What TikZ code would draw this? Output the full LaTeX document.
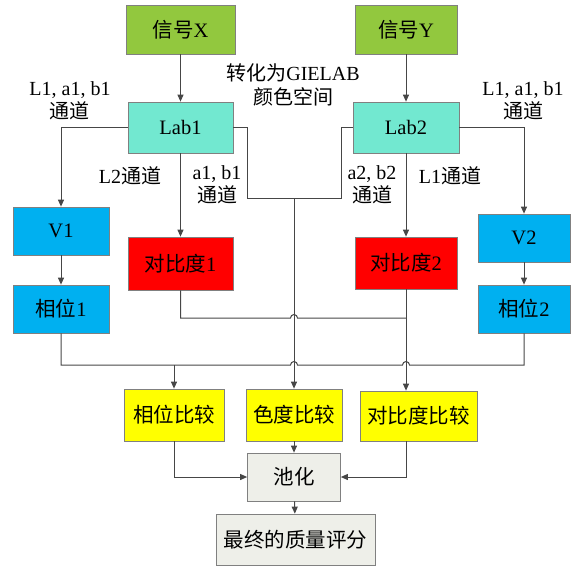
\documentclass[tikz,border=0pt]{standalone}
\usepackage{fontspec}
\setmainfont{Liberation Serif}
\newfontfamily\cjk{Noto Sans CJK SC}
\usetikzlibrary{arrows.meta}
\definecolor{sgreen}{RGB}{146,200,62}
\definecolor{labcol}{RGB}{114,232,208}
\definecolor{bluecol}{RGB}{0,176,240}
\definecolor{redcol}{RGB}{255,0,0}
\definecolor{yelcol}{RGB}{255,255,0}
\definecolor{greycol}{RGB}{238,239,233}
\definecolor{boxborder}{RGB}{128,128,128}
\definecolor{linecol}{RGB}{70,70,70}
\begin{document}
\begin{tikzpicture}[x=1pt,y=-1pt,
  box/.style={draw=boxborder, line width=0.7pt, inner sep=0pt, text=black,
    font=\fontsize{20.5}{24}\selectfont},
  conn/.style={draw=linecol, line width=1pt},
  arr/.style={conn, -{Triangle[length=7pt,width=6pt]}},
  lbl/.style={font=\fontsize{20}{23.5}\selectfont, align=center, inner sep=0pt, text=black}]
\useasboundingbox (0,0) rectangle (571,566);
% nodes
\node[box, fill=sgreen, minimum width=109pt, minimum height=49pt] (sx) at (180.5,29.5) {{\cjk 信号}X};
\node[box, fill=sgreen, minimum width=102pt, minimum height=49pt] (sy) at (406,29.5) {{\cjk 信号}Y};
\node[box, fill=labcol, minimum width=105pt, minimum height=51pt] (lab1) at (180.5,127.5) {Lab1};
\node[box, fill=labcol, minimum width=106pt, minimum height=51pt] (lab2) at (406,127.5) {Lab2};
\node[box, fill=bluecol, minimum width=96pt, minimum height=48pt] (v1) at (61,231) {V1};
\node[box, fill=bluecol, minimum width=96pt, minimum height=48pt] (p1) at (61,309) {{\cjk 相位}1};
\node[box, fill=redcol, minimum width=105pt, minimum height=53pt] (c1) at (180.5,263.5) {{\cjk 对比度}1};
\node[box, fill=redcol, minimum width=102pt, minimum height=52pt] (c2) at (406,263) {{\cjk 对比度}2};
\node[box, fill=bluecol, minimum width=92pt, minimum height=48pt] (v2) at (524,238) {V2};
\node[box, fill=bluecol, minimum width=92pt, minimum height=48pt] (p2) at (524,309) {{\cjk 相位}2};
\node[box, fill=yelcol, minimum width=100pt, minimum height=52pt] (pc) at (174,415) {\cjk 相位比较};
\node[box, fill=yelcol, minimum width=96pt, minimum height=52pt] (cc) at (294,415) {\cjk 色度比较};
\node[box, fill=yelcol, minimum width=117pt, minimum height=50pt] (kc) at (418.5,416) {\cjk 对比度比较};
\node[box, fill=greycol, minimum width=93pt, minimum height=48pt] (pool) at (294,477) {\cjk 池化};
\node[box, fill=greycol, minimum width=159pt, minimum height=51pt] (final) at (295.5,539.5) {\cjk 最终的质量评分};
% labels
\node[lbl] (t1) at (70,101) {L1, a1, b1\\{\cjk 通道}};
\node[lbl] (t2) at (523,101) {L1, a1, b1\\{\cjk 通道}};
\node[lbl] (t3) at (293,85) {{\cjk 转化为}GIELAB\\{\cjk 颜色空间}};
\node[lbl] (t4) at (130,176) {L2{\cjk 通道}};
\node[lbl] (t5) at (217,185) {a1, b1\\{\cjk 通道}};
\node[lbl] (t6) at (372,185) {a2, b2\\{\cjk 通道}};
\node[lbl] (t7) at (450,176) {L1{\cjk 通道}};
% coordinates
\coordinate (j) at (294,198);
\coordinate (k1) at (247,198);
\coordinate (k2) at (341,198);
\coordinate (m1) at (180.5,318);
\coordinate (m2) at (406,318);
\coordinate (q1) at (61,365);
\coordinate (q2) at (524,365);
\coordinate (qp) at (174,365);
% connectors
\draw[arr] (sx) -- (lab1);
\draw[arr] (sy) -- (lab2);
\draw[arr] (lab1.west) -| (v1.north);
\draw[arr] (v1) -- (p1);
\draw[arr] (lab1) -- (c1);
\draw[arr] (lab2.east) -| (v2.north);
\draw[arr] (v2) -- (p2);
\draw[arr] (lab2) -- (c2);
\draw[conn] (lab1.east) -| (k1) -- (j);
\draw[conn] (lab2.west) -| (k2) -- (j);
\draw[arr] (j) -- (j |- cc.north);
\draw[conn] (c1.south) -- (m1) -- (290.5,318) arc[start angle=180, end angle=0, radius=3.5pt] -- (m2);
\draw[arr] (c2.south) -- (c2.south |- kc.north);
\draw[conn] (p1.south) -- (q1) -- (290.5,365) arc[start angle=180, end angle=0, radius=3.5pt]
  -- (402.5,365) arc[start angle=180, end angle=0, radius=3.5pt] -- (q2) -- (p2.south);
\draw[arr] (qp) -- (pc.north);
\draw[arr] (pc.south) |- (pool.west);
\draw[arr] (cc.south) -- (pool.north);
\draw[arr] (kc.south -| c2.south) |- (pool.east);
\draw[arr] (pool) -- (final);
\end{tikzpicture}
\end{document}
